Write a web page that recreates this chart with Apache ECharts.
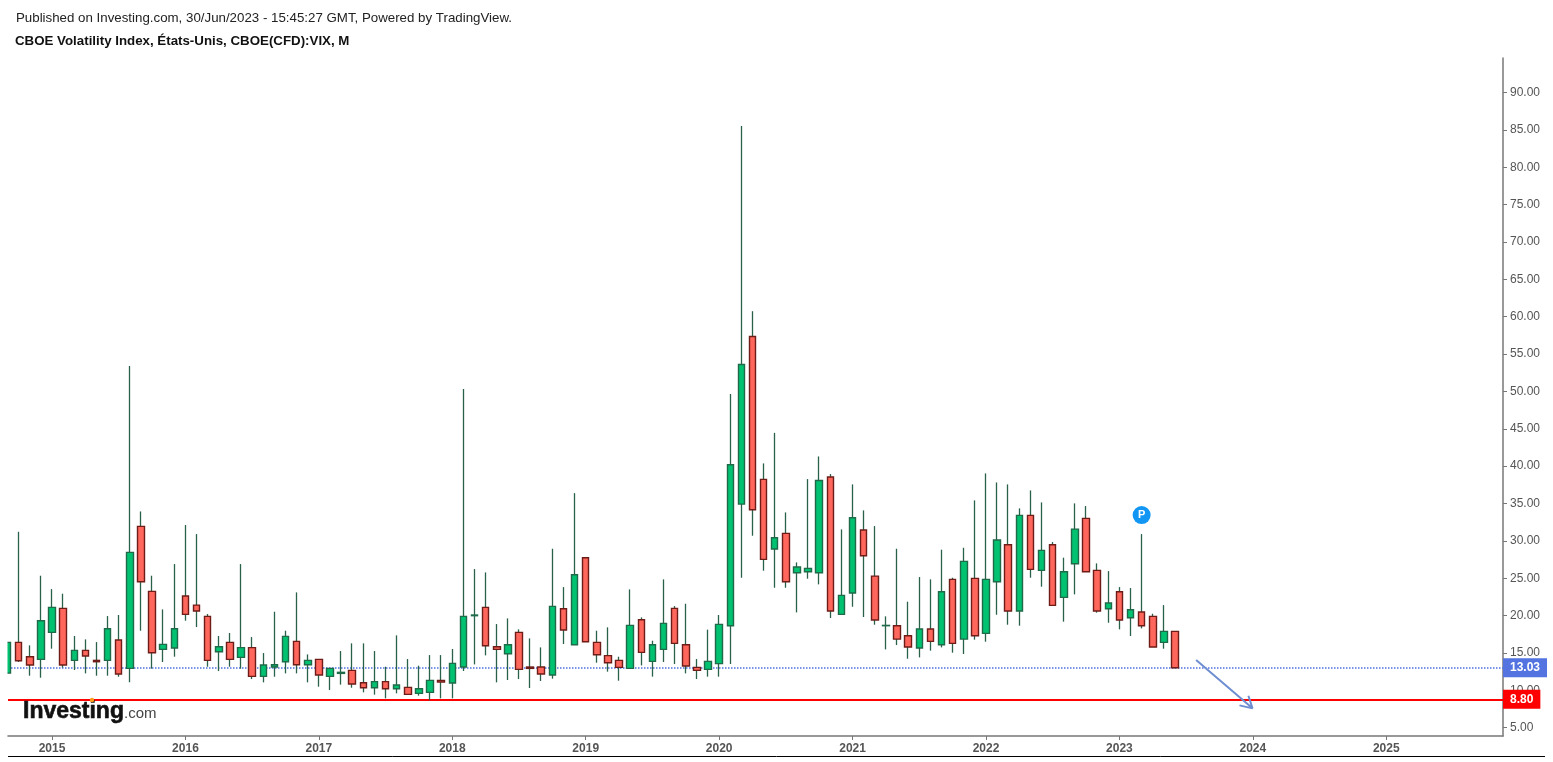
<!DOCTYPE html>
<html>
<head>
<meta charset="utf-8">
<title>CBOE Volatility Index</title>
<style>
    html, body { margin: 0; padding: 0; background: #fff; }
    #main { width: 1553px; height: 762px; }
</style>
<script src="https://cdn.jsdelivr.net/npm/echarts@6/dist/echarts.min.js"></script>
</head>
<body>
<div id="main"></div>
<script>
// monthly candles, Sep 2014 -> Jun 2023
var firstMonth = -4; // months relative to Jan 2015
var opens = [
    12.31, 16.42, 14.50, 14.14,
    17.76, 20.97, 14.01, 15.35, 14.01, 14.01, 16.73, 12.94, 31.94, 23.24, 15.48, 15.66,
    22.62, 21.41, 19.90, 15.17, 16.42, 14.41, 15.71, 11.87, 13.12, 13.83, 16.55, 13.43,
    14.14, 11.87, 12.27, 12.67, 11.02, 10.35, 11.16, 10.22, 10.40, 9.60, 9.73, 11.34,
    10.98, 13.12, 19.99, 21.10, 15.84, 14.90, 17.76, 13.12, 13.12, 12.05, 20.92, 16.11,
    27.75, 16.42, 14.64, 14.01, 12.94, 19.45, 13.88, 15.48, 20.97, 16.11, 13.08, 12.81,
    13.57, 18.65, 34.92, 57.36, 38.23, 28.91, 31.00, 25.74, 25.87, 25.74, 38.54, 20.17,
    23.02, 31.45, 25.29, 18.65, 18.65, 17.31, 15.66, 18.20, 16.11, 24.85, 16.86, 24.98,
    17.62, 24.54, 29.49, 20.61, 33.41, 26.05, 29.49, 22.44, 26.94, 33.01, 26.05, 20.92,
    23.20, 19.72, 20.48, 19.90, 16.42, 17.89
];
var closes = [
    16.42, 13.97, 13.39, 19.32,
    21.10, 13.39, 15.35, 14.59, 13.83, 18.25, 12.18, 28.46, 24.54, 15.04, 16.15, 18.25,
    20.16, 20.61, 14.01, 15.84, 14.14, 15.71, 11.87, 13.39, 13.43, 17.22, 13.43, 14.01,
    12.05, 12.94, 12.41, 10.84, 10.35, 11.16, 10.22, 10.71, 9.46, 10.22, 11.34, 11.11,
    13.61, 19.90, 20.08, 15.97, 15.48, 16.11, 12.81, 12.94, 12.18, 21.24, 18.07, 25.47,
    16.51, 14.77, 13.70, 13.08, 18.69, 15.08, 16.11, 18.96, 16.29, 13.25, 12.67, 13.88,
    18.83, 40.19, 53.61, 34.17, 27.52, 30.42, 24.54, 26.50, 26.32, 38.09, 20.61, 22.71,
    33.10, 28.01, 19.41, 18.69, 16.86, 15.79, 18.20, 16.55, 23.20, 16.29, 27.26, 17.31,
    24.85, 30.11, 20.61, 33.41, 26.19, 28.73, 21.37, 25.87, 31.58, 25.87, 20.61, 21.68,
    19.41, 20.79, 18.65, 15.79, 17.89, 13.03
];
var lows = [
    12.31, 13.79, 11.96, 11.69,
    15.57, 13.03, 12.72, 12.27, 11.96, 11.96, 11.82, 11.07, 17.98, 12.90, 13.79, 14.50,
    19.32, 18.47, 13.16, 12.58, 13.16, 12.90, 11.51, 11.07, 11.82, 12.27, 12.27, 11.07,
    10.49, 10.04, 10.76, 10.35, 9.73, 9.42, 8.93, 9.60, 9.42, 9.29, 8.66, 8.93,
    8.93, 12.58, 13.47, 14.68, 11.07, 11.38, 11.51, 10.31, 11.25, 11.56, 16.20, 16.11,
    16.51, 13.70, 12.50, 11.29, 12.94, 13.34, 11.83, 13.79, 13.52, 12.27, 11.51, 11.83,
    11.83, 13.52, 25.07, 30.69, 26.01, 23.73, 23.73, 20.43, 24.94, 24.18, 19.68, 20.17,
    21.19, 19.81, 18.78, 15.48, 16.06, 14.23, 14.41, 15.31, 15.75, 15.04, 14.86, 16.78,
    16.51, 20.12, 18.78, 18.65, 25.07, 23.87, 21.37, 19.19, 22.84, 25.87, 20.39, 19.05,
    18.16, 17.27, 18.29, 15.79, 15.57, 12.95
];
var highs = [
    16.49, 31.22, 16.02, 25.34,
    23.55, 22.93, 17.27, 16.82, 16.46, 19.94, 20.08, 53.39, 33.94, 25.34, 20.83, 26.90,
    32.12, 30.91, 20.21, 17.27, 17.67, 26.90, 17.13, 14.99, 20.52, 17.98, 23.11, 14.81,
    14.14, 12.94, 15.26, 16.29, 16.29, 15.26, 13.16, 17.36, 14.19, 13.30, 14.72, 14.72,
    15.53, 50.31, 26.23, 25.78, 18.87, 19.63, 18.16, 16.95, 15.75, 28.95, 23.82, 36.39,
    27.79, 17.98, 18.43, 14.50, 23.51, 19.76, 16.64, 24.85, 21.28, 21.59, 14.19, 18.12,
    20.08, 49.64, 85.53, 60.74, 40.37, 44.46, 33.81, 27.12, 38.27, 41.30, 38.94, 31.54,
    37.56, 34.08, 31.98, 19.90, 28.95, 21.86, 25.16, 24.85, 28.82, 25.07, 29.08, 35.42,
    39.03, 37.82, 37.56, 34.35, 36.75, 35.15, 29.84, 27.75, 35.02, 34.66, 26.99, 25.96,
    23.82, 23.69, 30.91, 20.25, 21.41, 17.94
];
var yearLabels = ['2015', '2016', '2017', '2018', '2019', '2020', '2021', '2022', '2023', '2024', '2025'];
var priceTicks = [5, 10, 15, 20, 25, 30, 35, 40, 45, 50, 55, 60, 65, 70, 75, 80, 85, 90];
var lastPrice = 13.03;
var supportLevel = 8.80;
// hand drawn arrow: start, tip, barb, tip, barb (month, price)
var arrowMonths = [102.9, 107.97, 107.6, 107.97, 106.8];
var arrowPrices = [14.05, 7.59, 9.28, 7.59, 7.99];
var publishMark = [98, 33.45];

var wickData = [], bodyData = [], arrowData = [], yearTicks = [];
var i;
for (i = 0; i < opens.length; i++) {
    wickData.push([firstMonth + i, opens[i], closes[i], lows[i], highs[i]]);
    bodyData.push([firstMonth + i, opens[i], closes[i], Math.min(opens[i], closes[i]), Math.max(opens[i], closes[i])]);
}
for (i = 0; i < arrowMonths.length; i++) {
    arrowData.push([arrowMonths[i], arrowPrices[i]]);
}
for (i = 0; i < yearLabels.length; i++) {
    yearTicks.push(i * 12);
}

var font = '"Liberation Sans", Arial, sans-serif';
var wickColor = '#2a6249';

function tagLabel(bg) {
    return {
        position: 'end', distance: 0, padding: [4, 7, 3, 7],
        backgroundColor: bg, color: '#fff',
        fontFamily: font, fontSize: 12, fontWeight: 'bold',
        formatter: function (p) { return p.value.toFixed(2); }
    };
}

var option = {
    animation: false,
    backgroundColor: '#fff',
    title: [{
        text: 'Published on Investing.com, 30/Jun/2023 - 15:45:27 GMT, Powered by TradingView.',
        left: 16, top: 12, padding: 0,
        textStyle: { fontFamily: font, fontSize: 13.3, fontWeight: 'normal', color: '#222' }
    }, {
        text: 'CBOE Volatility Index, États-Unis, CBOE(CFD):VIX, M',
        left: 15, top: 35, padding: 0,
        textStyle: { fontFamily: font, fontSize: 13.3, fontWeight: 'bold', color: '#111' }
    }],
    grid: { left: 8, right: 50, top: 58, bottom: 26 },
    xAxis: {
        type: 'value',
        min: -3.96,
        max: 130.5,
        splitLine: { show: false },
        axisLine: { onZero: false, lineStyle: { color: '#777', width: 1.5 } },
        axisTick: { length: 4, lineStyle: { color: '#777' }, customValues: yearTicks },
        axisLabel: {
            customValues: yearTicks,
            margin: 7,
            fontFamily: font, fontSize: 12, fontWeight: 'bold', color: '#555',
            formatter: function (v) { return yearLabels[v / 12]; }
        }
    },
    yAxis: {
        type: 'value',
        position: 'right',
        min: 3.89,
        max: 94.62,
        splitLine: { show: false },
        axisLine: { show: true, onZero: false, lineStyle: { color: '#777', width: 1.5 } },
        axisTick: { show: true, length: 4, lineStyle: { color: '#777' }, customValues: priceTicks },
        axisLabel: {
            customValues: priceTicks,
            margin: 7,
            padding: [4, 0, 0, 0],
            fontFamily: font, fontSize: 12, color: '#555',
            formatter: function (v) { return v.toFixed(2); }
        }
    },
    series: [{
        // wicks are dark green on every candle, so they get their own series
        name: 'wicks',
        type: 'candlestick',
        data: wickData,
        barWidth: 1,
        z: 2,
        itemStyle: {
            color: wickColor, color0: wickColor,
            borderColor: wickColor, borderColor0: wickColor, borderColorDoji: wickColor,
            borderWidth: 1.3
        },
        markLine: {
            silent: true,
            symbol: ['none', 'none'],
            z: 1,
            data: [{
                yAxis: lastPrice,
                lineStyle: { color: '#4f6fe0', type: 'dotted', width: 1.5 },
                label: tagLabel('#5273e0')
            }, {
                yAxis: supportLevel,
                lineStyle: { color: '#ff0000', type: 'solid', width: 2 },
                label: tagLabel('#ff0000')
            }]
        },
        markPoint: {
            silent: true,
            symbol: 'circle',
            symbolSize: 18,
            itemStyle: { color: '#1296f3' },
            label: { color: '#fff', fontFamily: font, fontSize: 11, fontWeight: 'bold', formatter: 'P' },
            data: [{ coord: publishMark }]
        }
    }, {
        name: 'bodies',
        type: 'candlestick',
        data: bodyData,
        barWidth: 7,
        z: 3,
        itemStyle: {
            color: '#00c271', color0: '#ff675c',
            borderColor: '#1f6a48', borderColor0: '#6e1c17', borderColorDoji: '#1f6a48',
            borderWidth: 1.4
        }
    }, {
        name: 'arrow',
        type: 'line',
        data: arrowData,
        symbol: 'none',
        silent: true,
        z: 4,
        clip: false,
        lineStyle: { color: '#6f8ed2', width: 2 }
    }],
    graphic: [{
        // candlestick series does not clip a half visible candle at the grid edge
        type: 'rect',
        shape: { x: 0, y: 600, width: 7.5, height: 120 },
        z: 10,
        style: { fill: '#fff' }
    }, {
        type: 'line',
        shape: { x1: 8, y1: 756.5, x2: 1545, y2: 756.5 },
        style: { stroke: '#000', lineWidth: 1 }
    }, {
        type: 'text',
        z: 10,
        style: {
            x: 23, y: 712, text: 'Investing', verticalAlign: 'middle',
            fontFamily: font, fontSize: 23, fontWeight: 'bold',
            fill: '#111', stroke: '#111', lineWidth: 0.6
        }
    }, {
        type: 'text',
        z: 10,
        style: {
            x: 124, y: 713.5, text: '.com', verticalAlign: 'middle',
            fontFamily: font, fontSize: 15, fill: '#444'
        }
    }, {
        type: 'circle',
        shape: { cx: 92, cy: 700, r: 2.2 },
        z: 11,
        style: { fill: '#ff9a1a' }
    }]
};

var chart = echarts.init(document.getElementById('main'));
chart.setOption(option);
</script>
</body>
</html>
